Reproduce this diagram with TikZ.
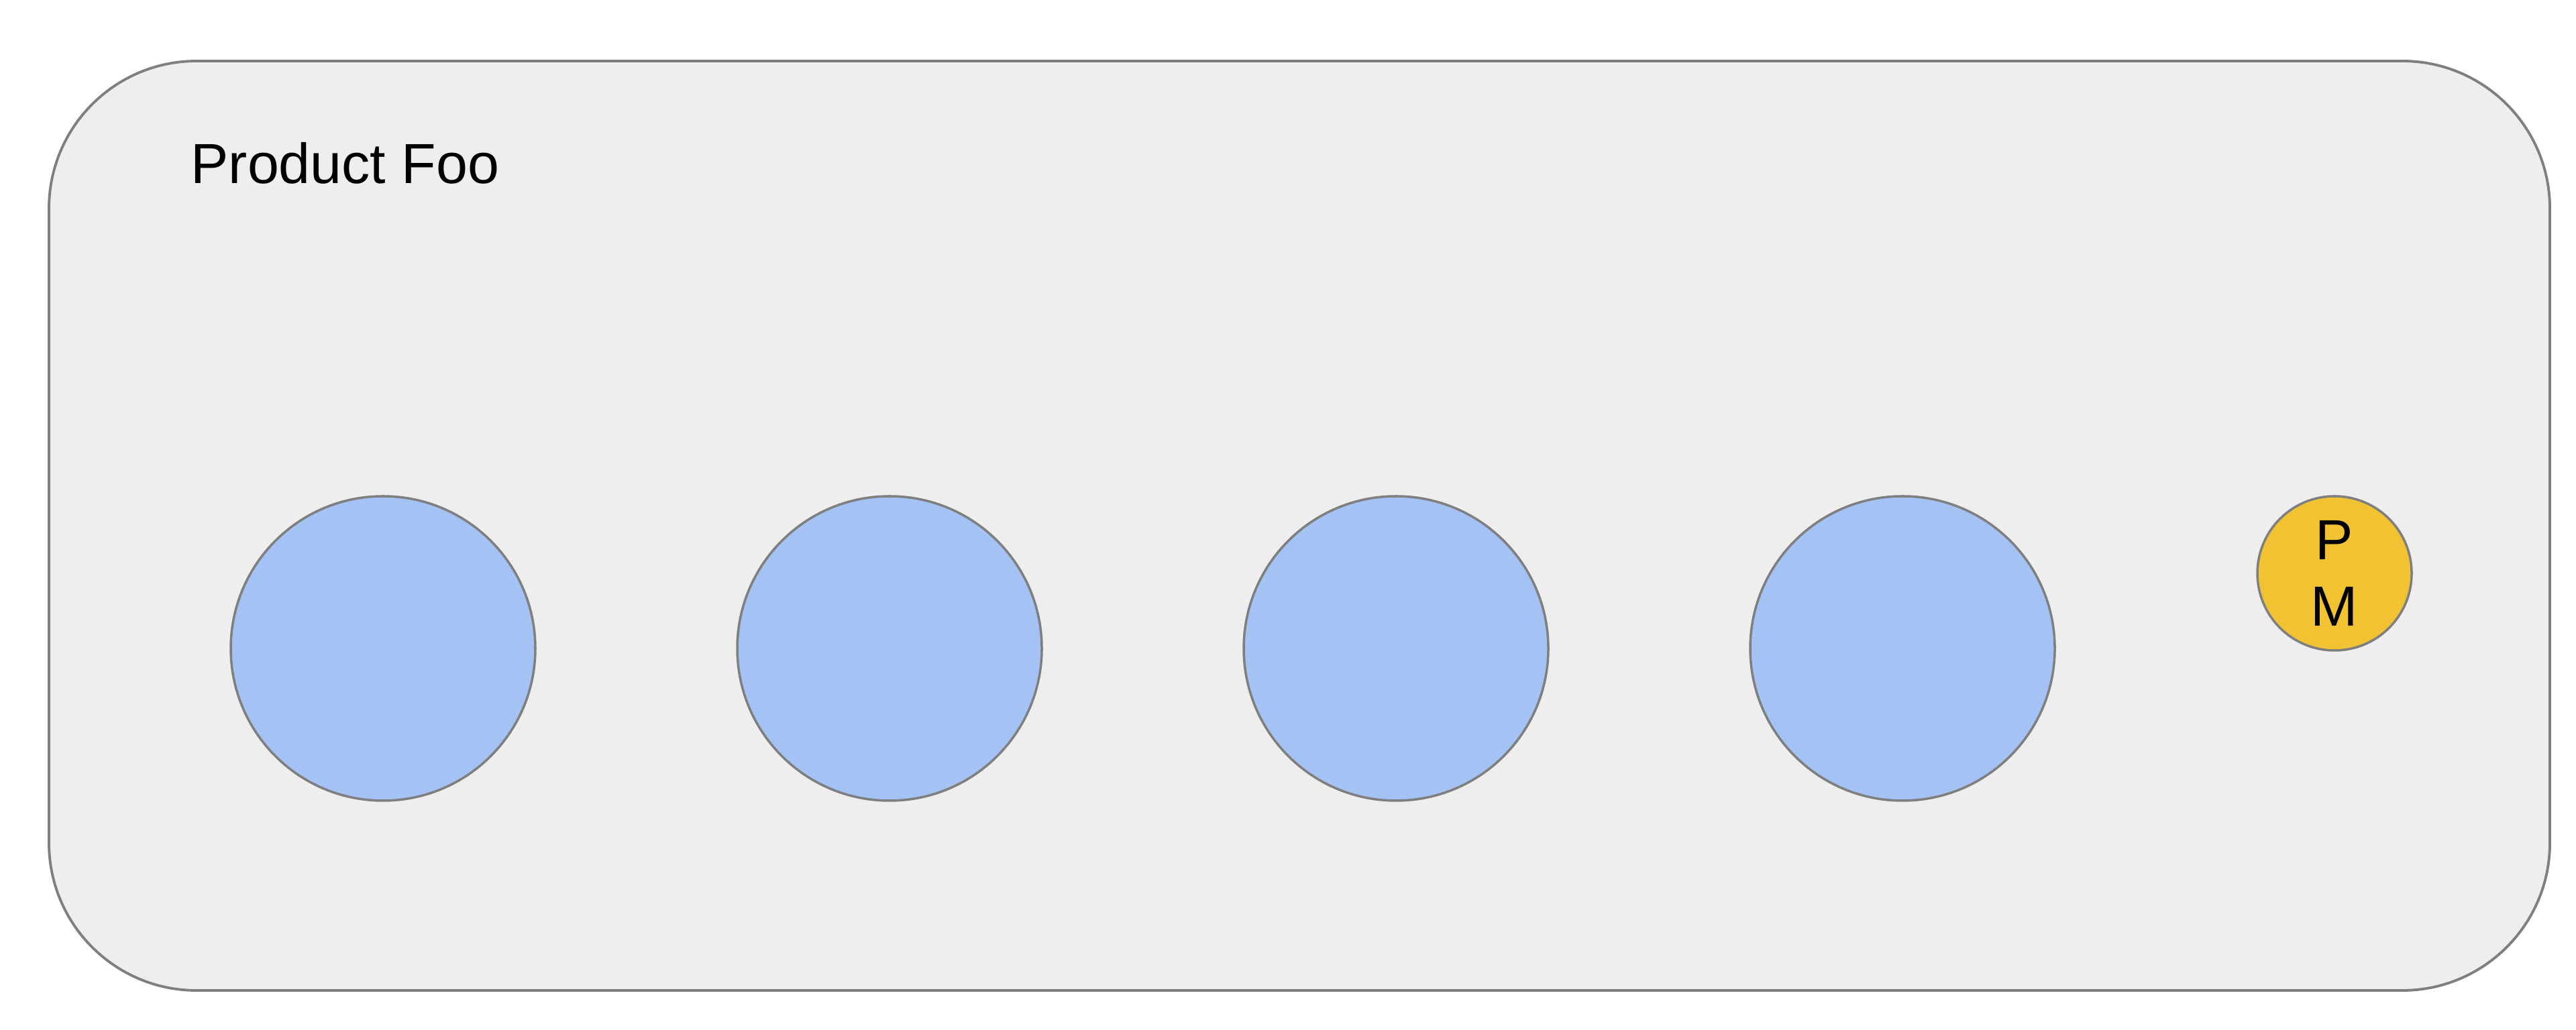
\documentclass[tikz,border=0pt]{standalone}
\usepackage{fontspec}
\setmainfont{Liberation Sans}
\usepackage{tikz}
\usetikzlibrary{shapes,calc,positioning}
\definecolor{panelgray}{HTML}{EEEEEE}
\definecolor{edgegray}{HTML}{7F7F7F}
\definecolor{dotblue}{HTML}{A4C2F4}
\definecolor{pmyellow}{HTML}{F1C232}
\tikzset{member/.style={draw=edgegray,circle,fill=dotblue,line width=1pt,inner sep=0pt,minimum size=4.54cm}}
\tikzstyle{pm}=[member, fill=pmyellow, minimum size=2.3cm, align=center, font=\fontsize{24}{27.9}\selectfont]

\begin{document}
\begin{tikzpicture}[node distance=7.55cm]
\useasboundingbox (0,0) rectangle (38.4,15.36);
\draw[draw=edgegray, fill=panelgray, line width=1.1pt, rounded corners=2.2cm] (0.73,0.59) rectangle (38.01,14.45);
\node[anchor=base west, inner sep=0pt, font=\fontsize{24}{28}\selectfont] (title) at (2.84,12.62) {Product Foo};
\node[member] (m1) at (5.71,5.69){};
\node[member][right of =m1] (m2){};
\node[member][right of =m2] (m3){};
\node[member][right of =m3] (m4){};
\node[pm] (PM) at (34.80,6.81) {P\\M};
\end{tikzpicture}
\end{document}
